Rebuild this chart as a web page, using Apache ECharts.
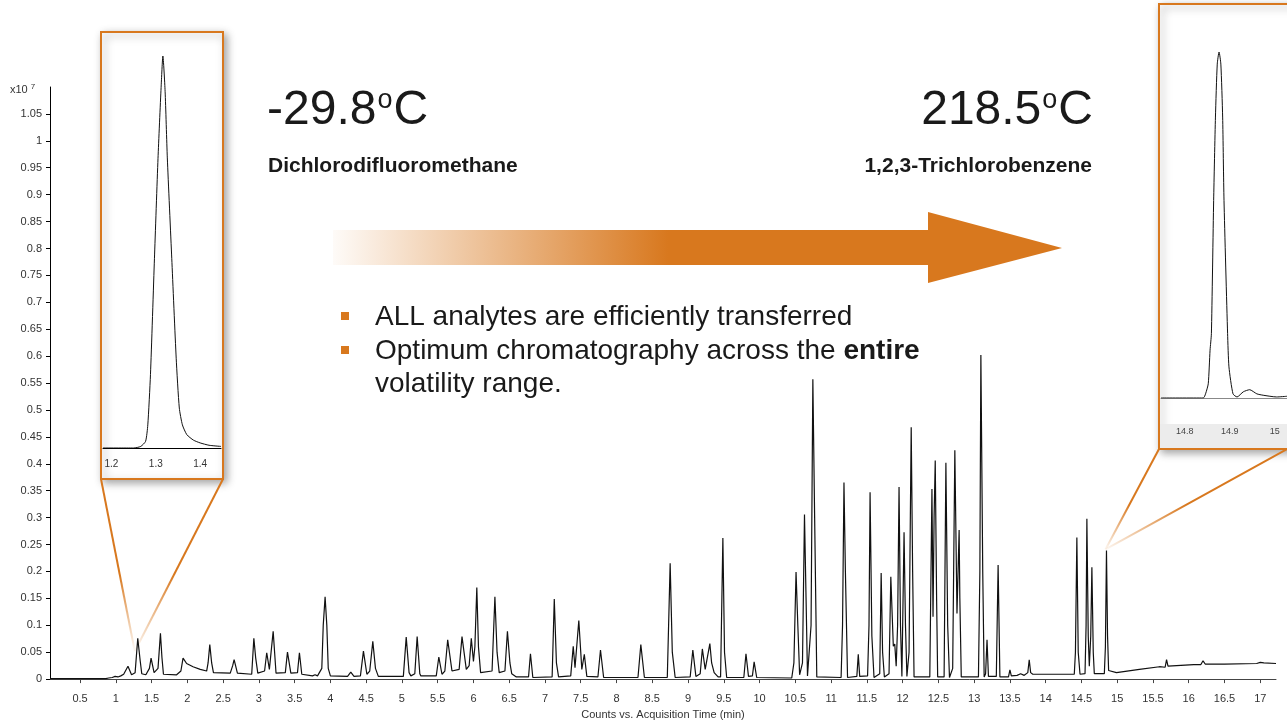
<!DOCTYPE html>
<html>
<head>
<meta charset="utf-8">
<script src="https://cdn.jsdelivr.net/npm/echarts@6/dist/echarts.min.js"></script>
<style>
  html, body { margin: 0; padding: 0; background: #fff; }
  #chart { width: 1287px; height: 725px; }
</style>
</head>
<body>
<div id="chart"></div>
<script>
// TIC trace, [minutes, counts x10^7]
var traceEarly = [
  [0.08,0.001],[0.86,0.001],[0.88,0.004],[0.9,0.002],[0.95,0.003],[0.99,0.005],[1.03,0.004],[1.07,0.006],
  [1.11,0.009],[1.17,0.024],[1.22,0.008],[1.27,0.012],[1.307,0.076],[1.34,0.035],[1.363,0.01],[1.42,0.008],
  [1.47,0.02],[1.493,0.039],[1.535,0.012],[1.59,0.02],[1.624,0.085],[1.645,0.04],[1.666,0.009],[1.85,0.008],
  [1.91,0.015],[1.94,0.039],[1.99,0.029],[2.08,0.023],[2.18,0.018],[2.27,0.015],[2.29,0.03],[2.314,0.064],
  [2.34,0.03],[2.365,0.012],[2.6,0.011],[2.634,0.025],[2.654,0.036],[2.70,0.011],[2.9,0.009],[2.93,0.076],
  [2.955,0.04],[2.985,0.011],[3.08,0.015],[3.11,0.049],[3.147,0.018],[3.2,0.089],[3.24,0.011],[3.37,0.012],
  [3.40,0.05],[3.447,0.011],[3.54,0.012],[3.567,0.049],[3.6,0.009],[3.75,0.006],[3.786,0.008],[3.82,0.006],
  [3.88,0.02],[3.9,0.1],[3.926,0.153],[3.95,0.1],[3.97,0.02],[4.0,0.006]
];
var traceMid = [
  [4.24,0.005],[4.285,0.013],[4.33,0.005],[4.42,0.006],[4.462,0.052],[4.51,0.009],[4.55,0.015],[4.593,0.07],
  [4.63,0.02],[4.67,0.005],[5.02,0.005],[5.06,0.078],[5.1,0.012],[5.125,0.006],[5.18,0.01],[5.213,0.079],
  [5.25,0.01],[5.265,0.006],[5.48,0.006],[5.516,0.041],[5.56,0.009],[5.6,0.015],[5.64,0.073],[5.70,0.015],
  [5.80,0.018],[5.84,0.079],[5.90,0.018],[5.94,0.025],[5.97,0.076],[6.0,0.033],[6.02,0.06],[6.047,0.17],
  [6.07,0.06],[6.10,0.012],[6.26,0.015],[6.30,0.153],[6.33,0.05],[6.36,0.012],[6.44,0.015],[6.475,0.089],
  [6.51,0.03],[6.535,0.01],[6.6,0.004],[6.77,0.004],[6.797,0.047],[6.83,0.003],[7.1,0.004],[7.13,0.149],
  [7.16,0.03],[7.19,0.004],[7.36,0.006],[7.395,0.061],[7.42,0.021],[7.473,0.109],[7.515,0.018],[7.55,0.046],
  [7.585,0.005],[7.74,0.004],[7.776,0.054],[7.82,0.003],[8.3,0.003],[8.34,0.064],[8.39,0.003],[8.71,0.003],
  [8.75,0.215],[8.78,0.05],[8.82,0.003],[9.03,0.004],[9.067,0.054],[9.11,0.005],[9.17,0.01],[9.20,0.056],
  [9.24,0.018],[9.305,0.066],[9.33,0.03],[9.365,0.012],[9.42,0.004],[9.455,0.004],[9.487,0.262],[9.51,0.05],
  [9.54,0.003],[9.78,0.003],[9.81,0.047],[9.845,0.005],[9.9,0.006],[9.924,0.032],[9.96,0.003],[10.45,0.002]
];
var traceLate = [
  [10.48,0.03],[10.51,0.199],[10.535,0.1],[10.56,0.008],[10.6,0.03],[10.628,0.306],[10.65,0.15],[10.67,0.006],
  [10.72,0.1],[10.745,0.557],[10.77,0.3],[10.80,0.004],[11.14,0.003],[11.16,0.1],[11.18,0.365],[11.2,0.2],
  [11.23,0.003],[11.36,0.005],[11.38,0.046],[11.4,0.005],[11.51,0.006],[11.53,0.1],[11.545,0.347],[11.57,0.08],
  [11.6,0.003],[11.68,0.01],[11.70,0.197],[11.72,0.05],[11.745,0.004],[11.81,0.01],[11.835,0.19],[11.87,0.061],
  [11.89,0.065],[11.91,0.024],[11.93,0.1],[11.95,0.357],[11.97,0.1],[11.99,0.005],[12.02,0.273],[12.04,0.1],
  [12.06,0.005],[12.09,0.05],[12.12,0.468],[12.14,0.2],[12.16,0.004],[12.38,0.004],[12.41,0.353],[12.425,0.116],
  [12.44,0.30],[12.456,0.406],[12.475,0.15],[12.49,0.004],[12.58,0.004],[12.605,0.402],[12.63,0.1],[12.655,0.003],
  [12.7,0.02],[12.73,0.425],[12.76,0.122],[12.79,0.277],[12.80,0.15],[12.82,0.004],[13.06,0.004],[13.08,0.2],
  [13.094,0.602],[13.12,0.2],[13.14,0.004],[13.16,0.01],[13.18,0.073],[13.2,0.005],[13.31,0.005],[13.335,0.212],
  [13.36,0.004],[13.48,0.004],[13.50,0.017],[13.52,0.006],[13.6,0.007],[13.65,0.01],[13.7,0.007],[13.75,0.012],
  [13.77,0.036],[13.79,0.012],[13.82,0.009]
];
var traceEnd = [
  [14.4,0.009],[14.416,0.05],[14.436,0.263],[14.455,0.05],[14.48,0.009],[14.55,0.01],[14.565,0.1],[14.576,0.298],
  [14.595,0.08],[14.61,0.024],[14.63,0.08],[14.646,0.208],[14.665,0.05],[14.68,0.01],[14.82,0.01],[14.835,0.06],
  [14.85,0.239],[14.865,0.08],[14.88,0.016],[14.99,0.012],[15.31,0.018],[15.59,0.023],[15.67,0.022],[15.69,0.036],
  [15.71,0.024],[16.07,0.027],[16.17,0.027],[16.2,0.034],[16.23,0.028],[16.5,0.028],[16.95,0.029],[17.0,0.031],
  [17.05,0.03],[17.22,0.029]
];

var yTicks = [0, 0.05, 0.1, 0.15, 0.2, 0.25, 0.3, 0.35, 0.4, 0.45, 0.5, 0.55, 0.6, 0.65, 0.7, 0.75, 0.8, 0.85, 0.9, 0.95, 1, 1.05];
var xTicks = [0.5, 1, 1.5, 2, 2.5, 3, 3.5, 4, 4.5, 5, 5.5, 6, 6.5, 7, 7.5, 8, 8.5, 9, 9.5, 10, 10.5, 11, 11.5, 12, 12.5, 13, 13.5, 14, 14.5, 15, 15.5, 16, 16.5, 17];

// zoomed peaks, relative height in %
var zoomFirst = [
  [1.181,0],[1.25,0],[1.266,0.4],[1.277,1.7],[1.282,5.9],[1.288,18.7],[1.297,48.4],[1.305,73.9],[1.312,92],
  [1.316,100],[1.321,91],[1.326,74],[1.336,48.4],[1.346,22.9],[1.353,10.2],[1.36,5.9],[1.37,3.4],[1.385,2],
  [1.40,1.3],[1.42,0.7],[1.447,0.4]
];
var zoomLast = [
  [14.747,0],[14.841,0],[14.846,1.2],[14.852,4.1],[14.856,13.8],[14.859,18.6],[14.864,57.1],[14.868,81.2],
  [14.872,96.5],[14.876,100],[14.88,96.5],[14.884,81.2],[14.887,57.1],[14.895,18.6],[14.898,9],[14.907,1.2],
  [14.916,0.3],[14.93,1.8],[14.944,2.4],[14.96,1.2],[14.974,0.8],[15.004,0.3],[15.027,0.5]
];
var zoomFirstTicks = [1.2, 1.3, 1.4];
var zoomLastTicks = [14.8, 14.9, 15];
var zoomedPeakTimes = [1.307, 14.85];

var orange = '#D8781E';
var font = '"Liberation Sans", Arial, sans-serif';
var ink = '#1a1a1a';

var chart = echarts.init(document.getElementById('chart'));

var option = {
  animation: false,
  backgroundColor: '#fff',
  textStyle: { fontFamily: font },
  grid: [
    { left: 50, right: 11, top: 87, bottom: 42 },
    { left: 103, top: 56, width: 118, height: 392 },
    { left: 1161, top: 52, width: 126, height: 346 }
  ],
  xAxis: [
    {
      type: 'value', gridIndex: 0, min: 0.08, max: 17.22, offset: 7,
      name: 'Counts vs. Acquisition Time (min)', nameLocation: 'middle', nameGap: 21,
      nameTextStyle: { fontSize: 11, color: '#333' },
      axisLine: { lineStyle: { color: '#444' } },
      axisTick: { length: 4, customValues: xTicks, lineStyle: { color: '#444' } },
      axisLabel: { customValues: xTicks, fontSize: 11, color: '#333', margin: 7 },
      splitLine: { show: false }
    },
    {
      type: 'value', gridIndex: 1, min: 1.181, max: 1.447, offset: 7, z: 10,
      axisLine: { lineStyle: { color: '#000' } },
      axisTick: { show: false },
      axisLabel: { customValues: zoomFirstTicks, fontSize: 10, color: '#333', margin: 4 },
      splitLine: { show: false }
    },
    {
      type: 'value', gridIndex: 2, min: 14.747, max: 15.027, offset: 25, z: 10,
      axisLine: { lineStyle: { color: '#888' } },
      axisTick: { show: false },
      axisLabel: { customValues: zoomLastTicks, fontSize: 9, color: '#444', margin: 4 },
      splitLine: { show: false }
    }
  ],
  yAxis: [
    {
      type: 'value', gridIndex: 0, min: 0, max: 1.1,
      axisLine: { show: true, lineStyle: { color: '#000' } },
      axisTick: { show: true, length: 4, customValues: yTicks, lineStyle: { color: '#000' } },
      axisLabel: { customValues: yTicks, fontSize: 11, color: '#333', margin: 8 },
      splitLine: { show: false }
    },
    { type: 'value', gridIndex: 1, min: 0, max: 100, show: false },
    { type: 'value', gridIndex: 2, min: 0, max: 100, show: false }
  ],
  series: [
    {
      type: 'line', xAxisIndex: 0, yAxisIndex: 0, symbol: 'none', silent: true,
      data: traceEarly.concat(traceMid, traceLate, traceEnd),
      lineStyle: { width: 1.2, color: '#111' }
    },
    {
      type: 'line', xAxisIndex: 1, yAxisIndex: 1, symbol: 'none', silent: true, z: 10,
      smooth: 0.2, data: zoomFirst, lineStyle: { width: 1, color: '#111' }
    },
    {
      type: 'line', xAxisIndex: 2, yAxisIndex: 2, symbol: 'none', silent: true, z: 10,
      smooth: 0.2, data: zoomLast, lineStyle: { width: 1, color: '#111' }
    }
  ]
};
chart.setOption(option);

// where the zoomed peaks sit on the main trace
var allTrace = option.series[0].data;
function peakPixel(t) {
  var best = allTrace[0];
  allTrace.forEach(function (p) {
    if (Math.abs(p[0] - t) < Math.abs(best[0] - t)) best = p;
  });
  return chart.convertToPixel({ xAxisIndex: 0, yAxisIndex: 0 }, best);
}
var p1 = peakPixel(zoomedPeakTimes[0]);
var p2 = peakPixel(zoomedPeakTimes[1]);

function fadeLine(x1, y1, x2, y2) {
  return {
    type: 'line', z: 3, silent: true,
    shape: { x1: x1, y1: y1, x2: x2, y2: y2 },
    style: {
      lineWidth: 2,
      stroke: new echarts.graphic.LinearGradient(0, 0, 0, 1, [
        { offset: 0, color: orange },
        { offset: 0.55, color: orange },
        { offset: 1, color: 'rgba(216,120,30,0)' }
      ])
    }
  };
}

var boxStyle = {
  fill: '#fff', stroke: orange, lineWidth: 2,
  shadowBlur: 8, shadowOffsetX: 3, shadowOffsetY: 3, shadowColor: 'rgba(0,0,0,0.35)'
};

chart.setOption({
  graphic: { elements: [
    { type: 'rect', z: 1, silent: true, shape: { x: 101, y: 32, width: 122, height: 447 }, style: boxStyle },
    { type: 'rect', z: 1, silent: true, shape: { x: 1159, y: 4, width: 160, height: 445 }, style: boxStyle },
    { type: 'rect', z: 2, silent: true, shape: { x: 1160, y: 424, width: 130, height: 24 }, style: { fill: '#ececec' } },
    fadeLine(101, 479, p1[0] - 3, p1[1] + 13),
    fadeLine(223, 479, p1[0] - 3, p1[1] + 13),
    fadeLine(1159, 449, p2[0] - 1, p2[1] - 1),
    fadeLine(1287, 449, p2[0] - 1, p2[1] - 1),
    {
      type: 'polygon', z: 3, silent: true,
      shape: { points: [[333, 230], [928, 230], [928, 212], [1062, 248], [928, 283], [928, 265], [333, 265]] },
      style: {
        fill: new echarts.graphic.LinearGradient(0, 0, 1, 0, [
          { offset: 0, color: 'rgba(216,120,30,0.03)' },
          { offset: 0.46, color: orange },
          { offset: 1, color: orange }
        ])
      }
    },
    {
      type: 'text', z: 20, silent: true, x: 267, y: 111,
      style: {
        text: '-29.8{s|o}C', fontSize: 48, fontFamily: font, fill: ink, align: 'left', verticalAlign: 'middle',
        rich: { s: { fontSize: 27, fontFamily: font, fill: ink, padding: [0, 1, 20, 1] } }
      }
    },
    {
      type: 'text', z: 20, silent: true, x: 1093, y: 111,
      style: {
        text: '218.5{s|o}C', fontSize: 48, fontFamily: font, fill: ink, align: 'right', verticalAlign: 'middle',
        rich: { s: { fontSize: 27, fontFamily: font, fill: ink, padding: [0, 1, 20, 1] } }
      }
    },
    {
      type: 'text', z: 20, silent: true, x: 268, y: 166,
      style: { text: 'Dichlorodifluoromethane', fontSize: 21, fontWeight: 'bold', fontFamily: font, fill: ink, align: 'left', verticalAlign: 'middle' }
    },
    {
      type: 'text', z: 20, silent: true, x: 1092, y: 166,
      style: { text: '1,2,3-Trichlorobenzene', fontSize: 21, fontWeight: 'bold', fontFamily: font, fill: ink, align: 'right', verticalAlign: 'middle' }
    },
    { type: 'rect', z: 20, silent: true, shape: { x: 341, y: 312, width: 8, height: 8 }, style: { fill: orange } },
    { type: 'rect', z: 20, silent: true, shape: { x: 341, y: 346, width: 8, height: 8 }, style: { fill: orange } },
    {
      type: 'text', z: 20, silent: true, x: 375, y: 317,
      style: { text: 'ALL analytes are efficiently transferred', fontSize: 28, fontFamily: font, fill: ink, align: 'left', verticalAlign: 'middle' }
    },
    {
      type: 'text', z: 20, silent: true, x: 375, y: 351,
      style: {
        text: 'Optimum chromatography across the {b|entire}', fontSize: 28, fontFamily: font, fill: ink, align: 'left', verticalAlign: 'middle',
        rich: { b: { fontSize: 28, fontWeight: 'bold', fontFamily: font, fill: ink } }
      }
    },
    {
      type: 'text', z: 20, silent: true, x: 375, y: 384,
      style: { text: 'volatility range.', fontSize: 28, fontFamily: font, fill: ink, align: 'left', verticalAlign: 'middle' }
    },
    {
      type: 'text', z: 20, silent: true, x: 10, y: 90,
      style: {
        text: 'x10{s|7}', fontSize: 11, fontFamily: font, fill: '#333', align: 'left', verticalAlign: 'middle',
        rich: { s: { fontSize: 8, fontFamily: font, fill: '#333', padding: [0, 0, 7, 3] } }
      }
    }
  ] }
});
</script>
</body>
</html>
